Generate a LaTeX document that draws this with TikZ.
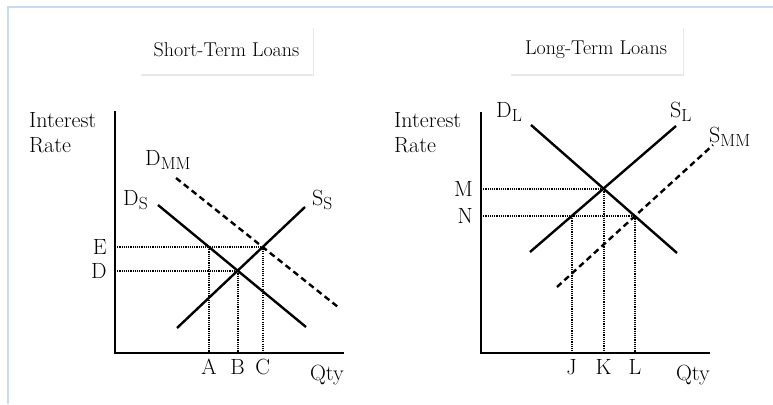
\documentclass[tikz,border=0pt]{standalone}
\usepackage{fontspec}
\usetikzlibrary{shadows, positioning}

\definecolor{frameblue}{RGB}{200,218,238}
\newcommand{\crvname}[2]{#1\raisebox{-4pt}{\fontsize{17.5}{17.5}\selectfont #2}}

\begin{document}
\begin{tikzpicture}[x=1pt, y=-1pt,
    axis/.style={line width=2.8pt},
    curve/.style={line width=2.4pt},
    shifted/.style={line width=2.4pt, dash pattern=on 6pt off 4pt},
    guide/.style={line width=2pt, dash pattern=on 1.1pt off 1.1pt},
    titlebox/.style={fill=white, minimum width=173pt, minimum height=48pt,
      font=\fontsize{20}{22}\selectfont,
      drop shadow={opacity=0.18, shadow xshift=1pt, shadow yshift=-2pt}},
    lbl/.style={font=\fontsize{22}{25}\selectfont, inner sep=0pt}]
  \useasboundingbox (0,0) rectangle (773,404);
  \draw[frameblue, line width=2.2pt] (8,404) -- (8,7) -- (773,7);

  % titles
  \node[titlebox] (stitle) at (226.5,50) {Short-Term Loans};
  \node[titlebox] (ltitle) at (596,50) {Long-Term Loans};

  % ---- short-term market ----
  \coordinate (sO) at (115,353);
  \coordinate (sY) at (115,111);
  \coordinate (sX) at (344,353);
  \draw[axis] (sY) -- (sO) -- (sX);
  \node[lbl, anchor=north west, align=left] (srate) at (29,112) {Interest\\Rate};
  \node[lbl, anchor=base east] (sqty) at (344,380) {Qty};

  \coordinate (ds1) at (158,205);
  \coordinate (ds2) at (306,327);
  \coordinate (ss1) at (177,328);
  \coordinate (ss2) at (305,207);
  \coordinate (dmm1) at (176,178);
  \coordinate (dmm2) at (338,307);
  \draw[curve] (ds1) -- (ds2);
  \draw[curve] (ss1) -- (ss2);
  \draw[shifted] (dmm1) -- (dmm2);
  \node[lbl, anchor=base west] (dslbl) at (123,205) {\crvname{D}{S}};
  \node[lbl, anchor=base west] (sslbl) at (312,205) {\crvname{S}{S}};
  \node[lbl, anchor=base west] (dmmlbl) at (145,165) {\crvname{D}{MM}};

  \coordinate (eqB) at (intersection of ds1--ds2 and ss1--ss2);
  \coordinate (eqC) at (intersection of ss1--ss2 and dmm1--dmm2);
  \coordinate (lvD) at (sO |- eqB);
  \coordinate (lvE) at (sO |- eqC);
  \coordinate (eqA) at (intersection of ds1--ds2 and lvE--eqC);
  \draw[guide] (lvE) -- (eqC) -- (eqC |- sO);
  \draw[guide] (lvD) -- (eqB) -- (eqB |- sO);
  \draw[guide] (eqA) -- (eqA |- sO);
  \node[lbl, anchor=east] (lblE) at ([xshift=-8pt]lvE) {E};
  \node[lbl, anchor=east] (lblD) at ([xshift=-8pt]lvD) {D};
  \node[lbl, anchor=base] (lblA) at (eqA |- 0,374) {A};
  \node[lbl, anchor=base] (lblB) at (eqB |- 0,374) {B};
  \node[lbl, anchor=base] (lblC) at (eqC |- 0,374) {C};

  % ---- long-term market ----
  \coordinate (lO) at (481,353);
  \coordinate (lY) at (481,112);
  \coordinate (lX) at (710,353);
  \draw[axis] (lY) -- (lO) -- (lX);
  \node[lbl, anchor=north west, align=left] (lrate) at (394,112) {Interest\\Rate};
  \node[lbl, anchor=base east] (lqty) at (710,380) {Qty};

  \coordinate (dl1) at (531,125);
  \coordinate (dl2) at (677,253);
  \coordinate (sl1) at (530,252);
  \coordinate (sl2) at (676,126);
  \coordinate (smm1) at (557,287);
  \coordinate (smm2) at (713,145);
  \draw[curve] (dl1) -- (dl2);
  \draw[curve] (sl1) -- (sl2);
  \draw[shifted] (smm1) -- (smm2);
  \node[lbl, anchor=base west] (dllbl) at (496,117) {\crvname{D}{L}};
  \node[lbl, anchor=base west] (sllbl) at (670,117) {\crvname{S}{L}};
  \node[lbl, anchor=base west] (smmlbl) at (709,142) {\crvname{S}{MM}};

  \coordinate (eqK) at (intersection of dl1--dl2 and sl1--sl2);
  \coordinate (eqL) at (intersection of dl1--dl2 and smm1--smm2);
  \coordinate (lvM) at (lO |- eqK);
  \coordinate (lvN) at (lO |- eqL);
  \coordinate (eqJ) at (intersection of sl1--sl2 and lvN--eqL);
  \draw[guide] (lvM) -- (eqK) -- (eqK |- lO);
  \draw[guide] (lvN) -- (eqL) -- (eqL |- lO);
  \draw[guide] (eqJ) -- (eqJ |- lO);
  \node[lbl, anchor=east] (lblM) at ([xshift=-8pt]lvM) {M};
  \node[lbl, anchor=east] (lblN) at ([xshift=-8pt]lvN) {N};
  \node[lbl, anchor=base] (lblJ) at (eqJ |- 0,374) {J};
  \node[lbl, anchor=base] (lblK) at (eqK |- 0,374) {K};
  \node[lbl, anchor=base] (lblL) at (eqL |- 0,374) {L};
\end{tikzpicture}
\end{document}
